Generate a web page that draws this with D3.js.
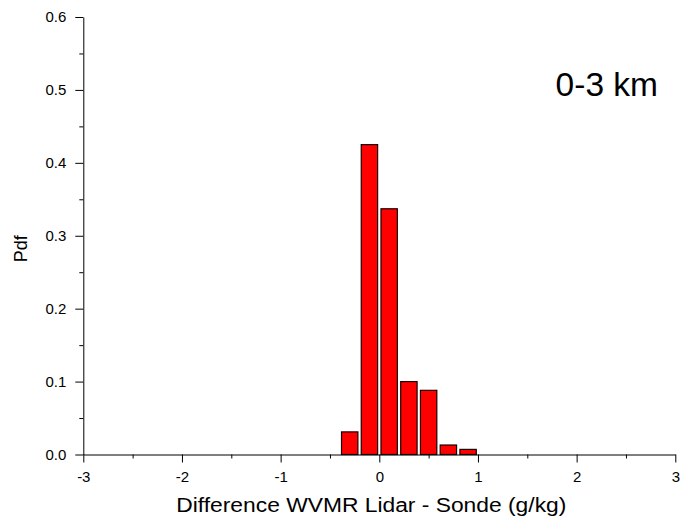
<!DOCTYPE html>
<html>
<head>
<meta charset="utf-8">
<script src="https://cdn.jsdelivr.net/npm/d3@7"></script>
<style>
  html, body { margin: 0; padding: 0; background: #fff; }
  svg { display: block; font-family: "Liberation Sans", Arial, sans-serif; }
</style>
</head>
<body>
<svg id="chart" width="680" height="520"></svg>
<script>
// Histogram of WVMR differences (lidar minus sonde), 0.2 g/kg bins
const binCenters = [-0.3, -0.1, 0.1, 0.3, 0.5, 0.7, 0.9];
const pdfValues  = [0.031, 0.425, 0.337, 0.100, 0.088, 0.013, 0.007];
const binWidth = 0.2;
const xTicks = [-3, -2, -1, 0, 1, 2, 3];
const yTicks = [0.0, 0.1, 0.2, 0.3, 0.4, 0.5, 0.6];
const xTitle = "Difference WVMR Lidar - Sonde (g/kg)";
const yTitle = "Pdf";
const panelLabel = "0-3 km";

const svg = d3.select("#chart");
const x = d3.scaleLinear().domain([-3, 3]).range([83.3, 675.3]);
const y = d3.scaleLinear().domain([0, 0.6]).range([454.5, 17]);

const barFrac = 0.83;

// Bars
svg.append("g")
  .selectAll("rect")
  .data(binCenters.map((c, i) => ({ c, v: pdfValues[i] })))
  .join("rect")
  .attr("x", d => x(d.c - binWidth * barFrac / 2))
  .attr("width", d => x(d.c + binWidth * barFrac / 2) - x(d.c - binWidth * barFrac / 2))
  .attr("y", d => y(d.v))
  .attr("height", d => y(0) - y(d.v))
  .attr("fill", "#ff0000")
  .attr("stroke", "#1a0000")
  .attr("stroke-width", 1.2);

const tickFont = 15;

// Minor ticks
const xMinor = d3.range(-2.5, 3, 1);
const yMinor = d3.range(0.05, 0.6, 0.1);

svg.append("g")
  .attr("transform", `translate(0,${y(0)})`)
  .call(d3.axisBottom(x).tickValues(xMinor).tickSize(4).tickSizeOuter(0).tickFormat(""))
  .call(g => g.select(".domain").remove());

svg.append("g")
  .attr("transform", `translate(${x(-3)},0)`)
  .call(d3.axisLeft(y).tickValues(yMinor).tickSize(4).tickSizeOuter(0).tickFormat(""))
  .call(g => g.select(".domain").remove());

// Major axes (plain hyphen for negative labels)
const xAxis = svg.append("g")
  .attr("transform", `translate(0,${y(0)})`)
  .call(d3.axisBottom(x).tickValues(xTicks).tickSize(8).tickSizeOuter(0).tickPadding(9)
        .tickFormat(d => String(d)));

const yAxis = svg.append("g")
  .attr("transform", `translate(${x(-3)},0)`)
  .call(d3.axisLeft(y).tickValues(yTicks).tickSize(8).tickSizeOuter(0).tickPadding(9)
        .tickFormat(d => d.toFixed(1)));

[xAxis, yAxis].forEach(g => {
  g.selectAll("text").attr("font-size", tickFont).attr("font-family", "Liberation Sans, Arial, sans-serif").attr("fill", "#000");
  g.selectAll("line").attr("stroke", "#000");
  g.select(".domain").attr("stroke", "#000");
});

// Axis titles
const xMid = (x(-3) + x(3)) / 2;
svg.append("text")
  .attr("transform", `translate(${xMid - 8},512) scale(1.17,1)`)
  .attr("text-anchor", "middle")
  .attr("font-size", 19.5)
  .text(xTitle);

svg.append("text")
  .attr("transform", `translate(27,${(y(0) + y(0.6)) / 2 + 13}) rotate(-90)`)
  .attr("text-anchor", "middle")
  .attr("font-size", 18)
  .text(yTitle);

// Panel label
svg.append("text")
  .attr("x", 658)
  .attr("y", 96)
  .attr("text-anchor", "end")
  .attr("font-size", 33.5)
  .text(panelLabel);
</script>
</body>
</html>
